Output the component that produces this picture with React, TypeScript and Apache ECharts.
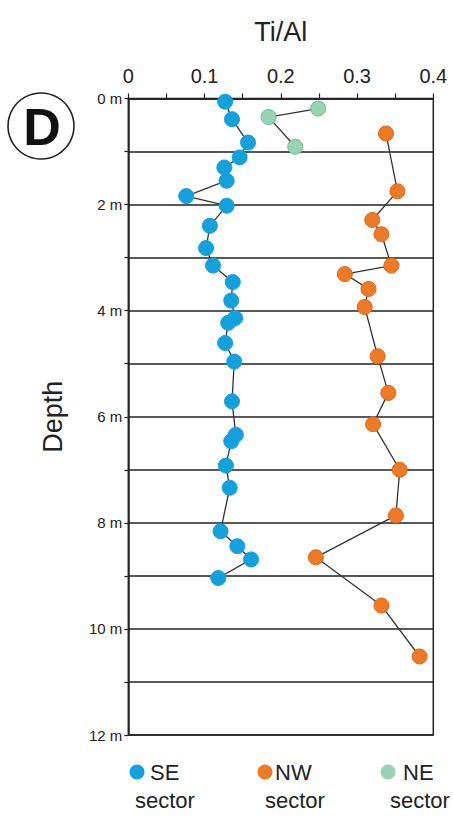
import React, { useEffect, useRef } from "react";
import * as echarts from "echarts";

const xTickLabels = ["0", "0.1", "0.2", "0.3", "0.4"];
const depthTickLabels = ["0 m", "", "2 m", "", "4 m", "", "6 m", "", "8 m", "", "10 m", "", "12 m"];

const seDepth = [0.06, 0.39, 0.83, 1.11, 1.3, 1.55, 1.84, 2.02, 2.4, 2.82, 3.15, 3.46, 3.81, 4.14, 4.23, 4.61, 4.96, 5.71, 6.34, 6.46, 6.92, 7.34, 8.16, 8.44, 8.69, 9.04];
const seValue = [0.127, 0.136, 0.157, 0.146, 0.126, 0.129, 0.076, 0.129, 0.107, 0.102, 0.111, 0.137, 0.135, 0.14, 0.131, 0.127, 0.139, 0.136, 0.141, 0.135, 0.128, 0.133, 0.121, 0.143, 0.161, 0.118];

const nwDepth = [0.66, 1.75, 2.29, 2.56, 3.15, 3.31, 3.59, 3.93, 4.86, 5.55, 6.14, 7.0, 7.86, 8.65, 9.56, 10.52];
const nwValue = [0.338, 0.353, 0.32, 0.332, 0.345, 0.284, 0.315, 0.31, 0.327, 0.341, 0.321, 0.356, 0.351, 0.246, 0.332, 0.382];

const neDepth = [0.19, 0.35, 0.91];
const neValue = [0.249, 0.184, 0.219];

const FONT = "'Liberation Sans', Arial, sans-serif";
const BLUE = "#12a1dd";
const ORANGE = "#ef7a25";
const GREEN = "#97d4b6";

const pairs = (vals: number[], deps: number[]) => vals.map((v, i) => [v, deps[i]]);

export default function App() {
  const ref = useRef<HTMLDivElement>(null);
  useEffect(() => {
    if (!ref.current) return;
    const chart = echarts.init(ref.current, null, { renderer: "svg" });
    const mkSeries = (name: string, data: number[][], color: string, border: string) => ({
      name,
      type: "line",
      data,
      symbol: "circle",
      symbolSize: 15,
      lineStyle: { color: "#333", width: 1.3 },
      itemStyle: { color, borderColor: border, borderWidth: 1 },
      z: 5,
    });
    chart.setOption({
      animation: false,
      backgroundColor: "#fff",
      grid: {
        left: 128.3,
        right: 19.7,
        top: 98.5,
        height: 636.5,
        show: true,
        borderColor: "#222",
        borderWidth: 1.5,
        backgroundColor: "transparent",
      },
      xAxis: {
        type: "value",
        position: "top",
        min: 0,
        max: 0.4,
        interval: 0.05,
        name: "Ti/Al",
        nameLocation: "middle",
        nameGap: 53,
        nameTextStyle: { fontFamily: FONT, fontSize: 27, color: "#222" },
        axisLine: { show: true, lineStyle: { color: "#222", width: 1.5 } },
        axisTick: { show: true, length: 5, lineStyle: { color: "#222", width: 1.2 } },
        axisLabel: {
          margin: 13,
          fontFamily: FONT,
          fontSize: 20,
          color: "#222",
          formatter: (v: number) => {
            const k = Math.round(v * 100);
            return k % 10 === 0 ? xTickLabels[k / 10] : "";
          },
        },
        splitLine: { show: false },
      },
      yAxis: {
        type: "value",
        inverse: true,
        min: 0,
        max: 12,
        interval: 1,
        name: "Depth",
        nameLocation: "middle",
        nameRotate: 90,
        nameGap: 62,
        nameTextStyle: { fontFamily: FONT, fontSize: 27, color: "#222" },
        axisLine: { show: true, lineStyle: { color: "#222", width: 1.5 } },
        axisTick: { show: true, length: 4, lineStyle: { color: "#222", width: 1.2 } },
        axisLabel: {
          margin: 6,
          fontFamily: FONT,
          fontSize: 15,
          color: "#222",
          padding: [0, 0, 5, 0],
          formatter: (v: number) => depthTickLabels[Math.round(v)] || "",
        },
        splitLine: { show: true, lineStyle: { color: "#222", width: 1.5 } },
      },
      series: [
        mkSeries("SE sector", pairs(seValue, seDepth), BLUE, BLUE),
        mkSeries("NW sector", pairs(nwValue, nwDepth), ORANGE, "#d8691c"),
        mkSeries("NE sector", pairs(neValue, neDepth), GREEN, "#6fb892"),
      ],
      graphic: [
        { type: "circle", shape: { cx: 41, cy: 126, r: 33 }, style: { fill: "none", stroke: "#222", lineWidth: 1.6 } },
        { type: "text", x: 42, y: 127, style: { text: "D", fontFamily: FONT, fontSize: 52, fontWeight: "bold", fill: "#111", align: "center", verticalAlign: "middle" } },
        { type: "circle", shape: { cx: 137, cy: 772, r: 7.5 }, style: { fill: BLUE } },
        { type: "text", x: 150, y: 772, style: { text: "SE", fontFamily: FONT, fontSize: 22, fill: "#222", verticalAlign: "middle" } },
        { type: "text", x: 135, y: 800, style: { text: "sector", fontFamily: FONT, fontSize: 22, fill: "#222", verticalAlign: "middle" } },
        { type: "circle", shape: { cx: 265, cy: 772, r: 7.5 }, style: { fill: ORANGE } },
        { type: "text", x: 275, y: 772, style: { text: "NW", fontFamily: FONT, fontSize: 22, fill: "#222", verticalAlign: "middle" } },
        { type: "text", x: 265, y: 800, style: { text: "sector", fontFamily: FONT, fontSize: 22, fill: "#222", verticalAlign: "middle" } },
        { type: "circle", shape: { cx: 388, cy: 772, r: 7.5 }, style: { fill: GREEN } },
        { type: "text", x: 403, y: 772, style: { text: "NE", fontFamily: FONT, fontSize: 22, fill: "#222", verticalAlign: "middle" } },
        { type: "text", x: 390, y: 800, style: { text: "sector", fontFamily: FONT, fontSize: 22, fill: "#222", verticalAlign: "middle" } },
      ],
    });
    return () => chart.dispose();
  }, []);
  return <div ref={ref} style={{ width: 453, height: 818, position: "absolute", left: 0, top: 0 }} />;
}
